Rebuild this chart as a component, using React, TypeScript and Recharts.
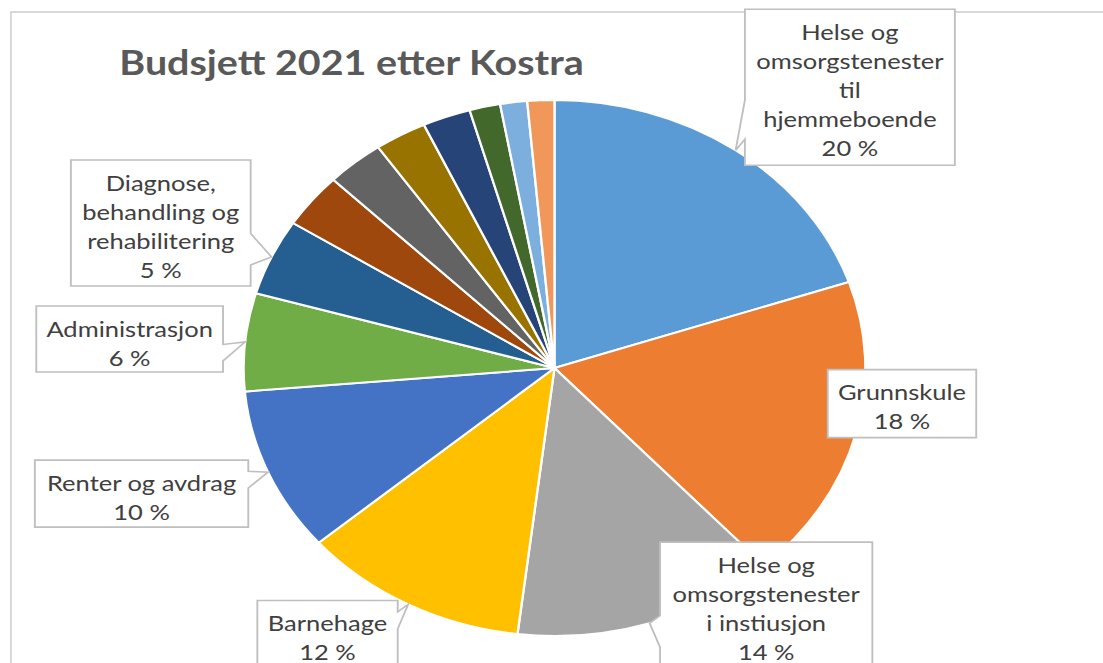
import { PieChart, Pie, Cell } from 'recharts'

const categories = [
  'Helse og omsorgstenester til hjemmeboende',
  'Grunnskule',
  'Helse og omsorgstenester i instiusjon',
  'Barnehage',
  'Renter og avdrag',
  'Administrasjon',
  'Diagnose, behandling og rehabilitering',
  'Øvrige 1',
  'Øvrige 2',
  'Øvrige 3',
  'Øvrige 4',
  'Øvrige 5',
  'Øvrige 6',
  'Øvrige 7',
]

// share of budget in percent
const shares = [19.8, 18.4, 13.7, 11.8, 9.9, 5.9, 4.6, 3.3, 3.0, 2.7, 2.5, 1.6, 1.4, 1.4]

const labelLines = [
  ['Helse og', 'omsorgstenester', 'til', 'hjemmeboende'],
  ['Grunnskule'],
  ['Helse og', 'omsorgstenester', 'i instiusjon'],
  ['Barnehage'],
  ['Renter og avdrag'],
  ['Administrasjon'],
  ['Diagnose,', 'behandling og', 'rehabilitering'],
]

const colors = [
  '#5B9BD5', '#ED7D31', '#A5A5A5', '#FFC000', '#4472C4', '#70AD47', '#255E91',
  '#9E480E', '#636363', '#997300', '#264478', '#43682B', '#7CAFDD', '#F1975A',
]

const chartData = categories.map((name, i) => ({ name, value: shares[i] }))

// callout box placement relative to the slice's outer edge point
const calloutBoxes = [
  { dx: 8, dy: -141, w: 181, h: 156 },
  { dx: -24, dy: -65, w: 128, h: 68 },
  { dx: 9, dy: -81, w: 183, h: 126 },
  { dx: -130, dy: -4, w: 121, h: 68 },
  { dx: -201, dy: -12, w: 184, h: 67 },
  { dx: -180, dy: -36, w: 161, h: 66 },
  { dx: -173, dy: -97, w: 155, h: 126 },
]

const SX = 1.16
const RAD = Math.PI / 180

function calloutPath(l: number, t: number, w: number, h: number, px: number, py: number) {
  const r = l + w, b = t + h
  const inside = px >= l && px <= r && py >= t && py <= b
  if (inside) return `M${l},${t}H${r}V${b}H${l}Z`
  const dxPos = px - (l + w / 2)
  const dyPos = py - (t + h / 2)
  const vertical = Math.abs(dyPos) - Math.abs(dxPos * h / w) > 0
  const x1 = l + w * (dxPos > 0 ? 7 : 2) / 12
  const x2 = l + w * (dxPos > 0 ? 10 : 5) / 12
  const y1 = t + h * (dyPos > 0 ? 7 : 2) / 12
  const y2 = t + h * (dyPos > 0 ? 10 : 5) / 12
  const tip = `L${px},${py}`
  let d = `M${l},${t}L${x1},${t}`
  if (vertical && dyPos < 0) d += tip
  d += `L${x2},${t}L${r},${t}L${r},${y1}`
  if (!vertical && dxPos > 0) d += tip
  d += `L${r},${y2}L${r},${b}L${x2},${b}`
  if (vertical && dyPos > 0) d += tip
  d += `L${x1},${b}L${l},${b}L${l},${y2}`
  if (!vertical && dxPos < 0) d += tip
  d += `L${l},${y1}Z`
  return d
}

function Callout(props: any) {
  const { cx, cy, midAngle, outerRadius, percent, index } = props
  const box = calloutBoxes[index]
  if (!box) return null
  const px = cx + outerRadius * Math.cos(-midAngle * RAD)
  const py = cy + outerRadius * Math.sin(-midAngle * RAD)
  const l = px + box.dx
  const t = py + box.dy
  const lines = [...labelLines[index], `${Math.round(percent * 100)} %`]
  return (
    <g>
      <path d={calloutPath(l, t, box.w, box.h, px, py)} fill="#fff" stroke="#bfbfbf" strokeWidth={1.6} />
      {lines.map((line, k) => (
        <text
          key={k}
          x={l + box.w / 2}
          y={t + 22 + k * 29}
          textAnchor="middle"
          dominantBaseline="central"
          fontFamily="Lato, sans-serif"
          fontSize={22}
          fill="#404040"
        >
          {line}
        </text>
      ))}
    </g>
  )
}

export default function App() {
  return (
    <div style={{ position: 'absolute', left: 0, top: 0, width: 1103, height: 663, overflow: 'hidden', background: '#fff' }}>
      <div style={{ position: 'absolute', left: 10, top: 11, width: 1200, height: 800, border: '2px solid #d9d9d9' }} />
      <div style={{ position: 'absolute', left: 0, top: 0, transform: `scaleX(${SX})`, transformOrigin: '0 0' }}>
        <PieChart width={951} height={700} margin={{ top: 0, right: 0, bottom: 0, left: 0 }}>
          <text x={303} y={75} textAnchor="middle" fontFamily="Lato, sans-serif" fontWeight="bold" fontSize={34} fill="#595959">
            Budsjett 2021 etter Kostra
          </text>
          <Pie
            data={chartData}
            dataKey="value"
            nameKey="name"
            cx={478}
            cy={368}
            outerRadius={268}
            startAngle={90}
            endAngle={-270}
            stroke="#fff"
            strokeWidth={2}
            label={Callout}
            labelLine={false}
            isAnimationActive={false}
          >
            {chartData.map((d, i) => (
              <Cell key={d.name} fill={colors[i]} />
            ))}
          </Pie>
        </PieChart>
      </div>
    </div>
  )
}
